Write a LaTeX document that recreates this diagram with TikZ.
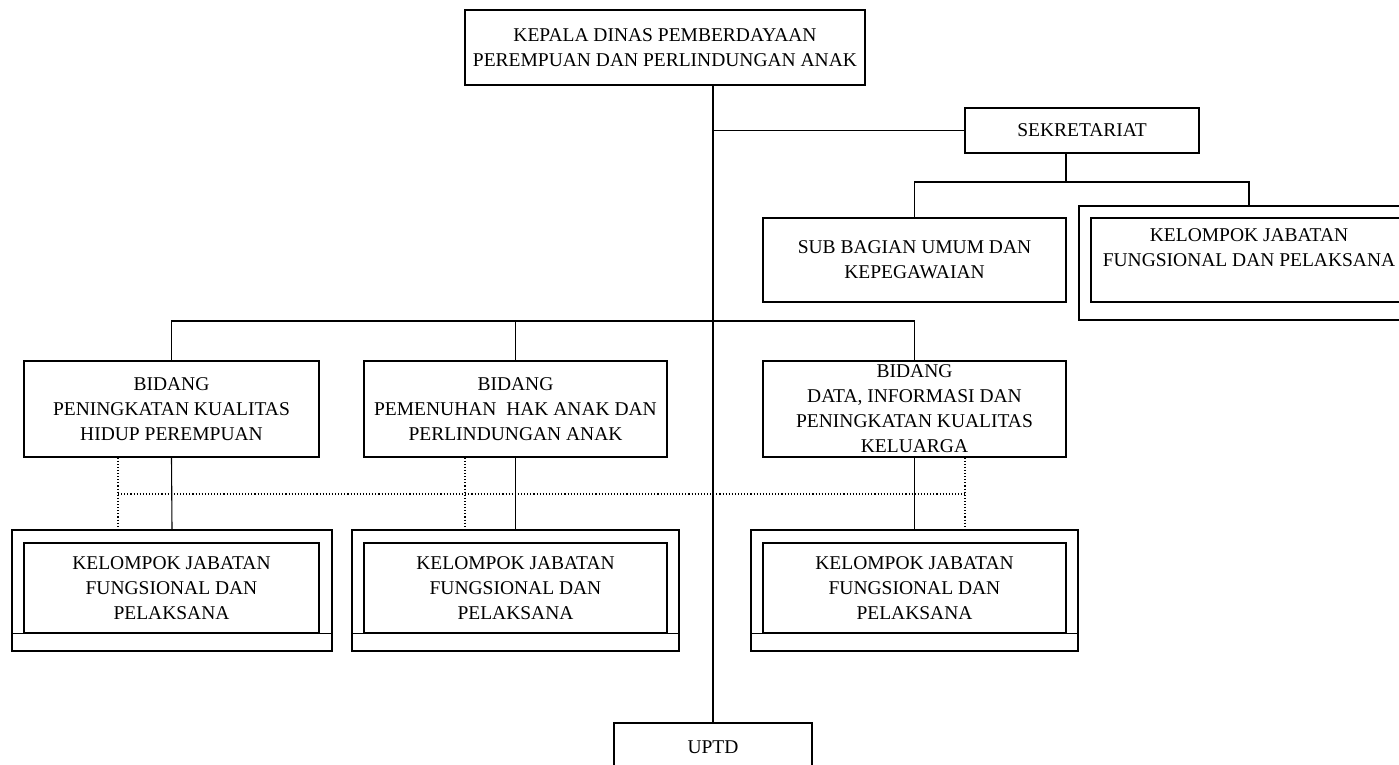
\documentclass[tikz,border=0pt]{standalone}
\usepackage{fontspec}
\setmainfont{Liberation Serif}
\usepackage{tikz}
\usetikzlibrary{positioning}

\begin{document}
\begin{tikzpicture}[
  x=1pt, y=-1pt,
  line width=1.1pt,
  box/.style={draw, align=center, inner sep=0pt, font={\fontsize{19.5}{25}\selectfont}}, % text boxes
  frame/.style={draw, inner sep=0pt}, % outer frame of a group box
  dotline/.style={dotted, line width=1.1pt}
]
\useasboundingbox (0,0) rectangle (1399,765);

% Top of the chart
\node[box, minimum width=400pt, minimum height=75pt] (kepala) at (665,47.5)
  {KEPALA DINAS PEMBERDAYAAN\\PEREMPUAN DAN PERLINDUNGAN ANAK};
\node[box, minimum width=234pt, minimum height=45pt] (sekretariat) at (1082,130.5) {SEKRETARIAT};
\node[box, minimum width=303pt, minimum height=84pt] (subbag) at (914.5,260)
  {SUB BAGIAN UMUM DAN\\KEPEGAWAIAN};
\node[frame, minimum width=340pt, minimum height=114pt] (kjf0) at (1249,263) {};
\node[box, minimum width=316pt, minimum height=84pt] (kjf0in) at (1249,260)
  {KELOMPOK JABATAN\\FUNGSIONAL DAN PELAKSANA\\\mbox{}};

% Bidang
\node[box, minimum width=295pt, minimum height=96pt] (bidang1) at (171.5,409)
  {BIDANG\\PENINGKATAN KUALITAS\\HIDUP PEREMPUAN};
\node[box, minimum width=303pt, minimum height=96pt] (bidang2) at (515.5,409)
  {BIDANG\\PEMENUHAN\ \ HAK ANAK DAN\\PERLINDUNGAN ANAK};
\node[box, minimum width=303pt, minimum height=96pt] (bidang3) at (914.5,409)
  {BIDANG\\DATA, INFORMASI DAN\\PENINGKATAN KUALITAS\\KELUARGA};

% Kelompok jabatan fungsional
\node[frame, minimum width=320pt, minimum height=121pt] (kjf1) at (172,590.5) {};
\node[box, minimum width=295pt, minimum height=90pt] (kjf1in) at (171.5,588)
  {KELOMPOK JABATAN\\FUNGSIONAL DAN\\PELAKSANA};
\node[frame, minimum width=327pt, minimum height=121pt] (kjf2) at (515.5,590.5) {};
\node[box, minimum width=303pt, minimum height=90pt] (kjf2in) at (515.5,588)
  {KELOMPOK JABATAN\\FUNGSIONAL DAN\\PELAKSANA};
\node[frame, minimum width=327pt, minimum height=121pt] (kjf3) at (914.5,590.5) {};
\node[box, minimum width=303pt, minimum height=90pt] (kjf3in) at (914.5,588)
  {KELOMPOK JABATAN\\FUNGSIONAL DAN\\PELAKSANA};
\foreach \k in {1,2,3}
  \draw (kjf\k in.south -| kjf\k.west) -- (kjf\k in.south -| kjf\k.east);

\node[box, minimum width=198pt, minimum height=48pt] (uptd) at (713,747) {UPTD};

% Connectors
\coordinate (sekfork) at (1066,182);
\coordinate (bidfork) at (713,321);
\draw (kepala.south -| uptd.north) -- (uptd.north);
\draw (sekretariat.west) -- (sekretariat.west -| uptd.north);
\draw (sekretariat.south -| sekfork) -- (sekfork);
\draw (subbag.north) |- (sekfork) -| (kjf0.north);
\draw (bidang1.north) |- (bidfork) -| (bidang3.north);
\draw (bidang2.north) -- (bidang2.north |- bidfork);
\foreach \k in {1,2,3}
  \draw (bidang\k.south) -- (kjf\k.north);

% Dotted lines
\coordinate (dl1) at (118,494);
\coordinate (dl2) at (465,494);
\coordinate (dl3) at (965,494);
\draw[dotline] (dl1) -- (dl3);
\draw[dotline] (dl1 |- bidang1.south) -- (dl1 |- kjf1.north);
\draw[dotline] (dl2 |- bidang2.south) -- (dl2 |- kjf2.north);
\draw[dotline] (dl3 |- bidang3.south) -- (dl3 |- kjf3.north);
\end{tikzpicture}
\end{document}
